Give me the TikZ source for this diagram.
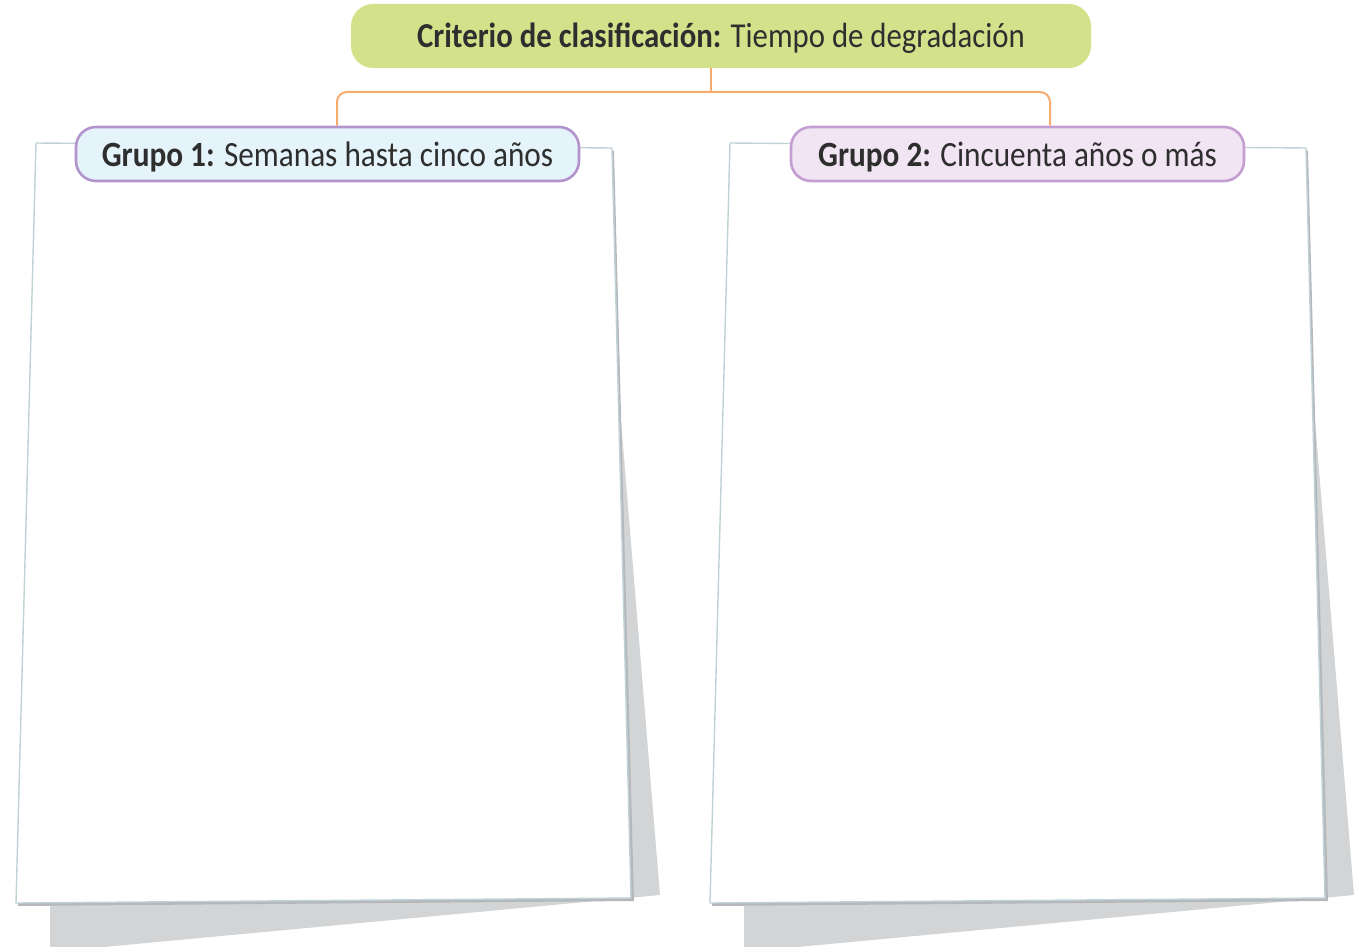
\documentclass[tikz,border=0pt]{standalone}
\usepackage{fontspec}
\setmainfont{Carlito}[FakeStretch=0.88]
\begin{document}
\begin{tikzpicture}[x=1pt,y=-1pt,
  topbox/.style={fill=topgreen,rounded corners=22pt,minimum width=740pt,minimum height=64pt,inner sep=0pt,text=txt,font=\fontsize{35}{38}\selectfont},
  grpbox/.style={rounded corners=20pt,line width=2.6pt,minimum height=54pt,inner sep=0pt,text=txt,font=\fontsize{35.5}{38}\selectfont},
  paper/.style={fill=white,draw=paperline,line width=1.4pt,line join=round},
  sheet/.style={fill=sheetgray},
  drop/.style={fill=dropgray},
  conn/.style={draw=orangeline,line width=2pt}
]
\definecolor{topgreen}{HTML}{D3E18B}
\definecolor{txt}{HTML}{2E2E2E}
\definecolor{paperline}{HTML}{BFD2D6}
\definecolor{sheetgray}{HTML}{D2D4D6}
\definecolor{dropgray}{HTML}{B4B8BC}
\definecolor{g1fill}{HTML}{E5F4FA}
\definecolor{g1line}{HTML}{B393CC}
\definecolor{g2fill}{HTML}{F1E5F3}
\definecolor{g2line}{HTML}{C49DD1}
\definecolor{orangeline}{HTML}{F5AA6E}
\useasboundingbox (0,0) rectangle (1368,947);
\clip (0,0) rectangle (1368,947);
% sheets
\foreach \dx in {0,694}{
  \begin{scope}[xshift=\dx pt]
    \fill[sheet] (602,190) -- (660,895) -- (50,952) -- (50,880) -- cycle;
    \fill[drop] (38,146) -- (614,151) -- (634,901) -- (18,906) -- cycle;
    \draw[paper] (36,143) -- (612,148) -- (631,898) -- (16,903) -- cycle;
  \end{scope}
}
% nodes
\node[topbox] (top) at (721,36) {\raisebox{-12pt}[0pt][0pt]{\textbf{Criterio de clasificación:} Tiempo de degradación}};
\node[grpbox,fill=g1fill,draw=g1line,minimum width=503pt] (g1) at (327.5,154) {\raisebox{-13pt}[0pt][0pt]{\textbf{Grupo 1:} Semanas hasta cinco años}};
\node[grpbox,fill=g2fill,draw=g2line,minimum width=453pt] (g2) at (1017.5,154) {\raisebox{-13pt}[0pt][0pt]{\textbf{Grupo 2:} Cincuenta años o más}};
% connectors
\coordinate (j) at (711,92);
\coordinate (b1) at (337,92);
\coordinate (b2) at (1050,92);
\draw[conn] (top.south -| j) -- (j);
\draw[conn,rounded corners=10pt] (g1.north -| b1) -- (b1) -- (b2) -- (g2.north -| b2);
\end{tikzpicture}
\end{document}
